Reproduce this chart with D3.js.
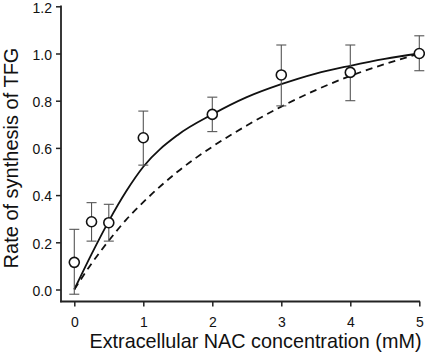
<!DOCTYPE html>
<html><head><meta charset="utf-8">
<script src="https://cdn.jsdelivr.net/npm/d3@7"></script>
<style>body{margin:0;background:#fff}svg{display:block}text{font-family:Arial,"Liberation Sans",sans-serif}</style>
</head><body>
<svg id="c" width="425" height="354"></svg>
<script>
// Data
const conc = [0, 0.25, 0.5, 1, 2, 3, 4, 5];
const rate = [0.115, 0.287, 0.283, 0.643, 0.742, 0.909, 0.920, 1.0];
const errLow = [-0.02, 0.205, 0.205, 0.527, 0.669, 0.778, 0.800, 0.927];
const errHigh = [0.255, 0.368, 0.361, 0.756, 0.815, 1.036, 1.036, 1.075];
const curveX = [0, 0.25, 0.5, 0.75, 1, 1.5, 2, 2.5, 3, 3.5, 4, 4.5, 5];
const solidY = [0, 0.15, 0.29, 0.415, 0.52, 0.655, 0.742, 0.815, 0.87, 0.915, 0.948, 0.977, 1.0];
const dashedY = [0, 0.11, 0.207, 0.295, 0.37, 0.50, 0.605, 0.695, 0.775, 0.845, 0.905, 0.955, 1.0];
const xTicks = [0, 1, 2, 3, 4, 5];
const yTicks = [0, 0.2, 0.4, 0.6, 0.8, 1.0, 1.2];
const xTitle = "Extracellular NAC concentration (mM)";
const yTitle = "Rate of synthesis of TFG";

const svg = d3.select("#c");
const x = d3.scaleLinear().domain([0, 5]).range([74.3, 419.3]);
const y = d3.scaleLinear().domain([0, 1.2]).range([289.5, 6.3]);
const axisColor = "#222";
const font = "Arial, 'Liberation Sans', sans-serif";

// y axis
const gy = svg.append("g").attr("transform", "translate(61,0)")
  .call(d3.axisLeft(y).tickValues(yTicks).tickFormat(d3.format(".1f")).tickSize(5).tickSizeOuter(0).tickPadding(4));
gy.select(".domain").remove();
gy.selectAll("line").attr("stroke", axisColor).attr("stroke-width", 1.5);
gy.selectAll("text").attr("font-size", 14).attr("dy", "0.42em").attr("fill", "#111").style("font-family", font);
svg.append("line").attr("x1", 61).attr("x2", 61).attr("y1", y(1.2) - 0.75).attr("y2", 302.2)
  .attr("stroke", axisColor).attr("stroke-width", 1.8);

// x axis
const gx = svg.append("g").attr("transform", "translate(0,301.5)")
  .call(d3.axisBottom(x).tickValues(xTicks).tickFormat(d3.format("d")).tickSize(5).tickSizeOuter(0).tickPadding(11));
gx.select(".domain").remove();
gx.selectAll("line").attr("stroke", axisColor).attr("stroke-width", 1.5);
gx.selectAll("text").attr("font-size", 14).attr("fill", "#111").style("font-family", font);
svg.append("line").attr("x1", 60.1).attr("x2", x(5) + 0.75).attr("y1", 301.5).attr("y2", 301.5)
  .attr("stroke", axisColor).attr("stroke-width", 1.8);

// titles
svg.append("text").attr("x", 255.5).attr("y", 348).attr("text-anchor", "middle")
  .attr("font-size", 19.8).attr("fill", "#111").text(xTitle);
svg.append("text").attr("transform", "translate(17.5,158) rotate(-90)").attr("text-anchor", "middle")
  .attr("font-size", 20).attr("fill", "#111").text(yTitle);

// curves
const line = d3.line().x(d => x(d[0])).y(d => y(d[1])).curve(d3.curveMonotoneX);
svg.append("path").datum(curveX.map((v, i) => [v, dashedY[i]]))
  .attr("d", line).attr("fill", "none").attr("stroke", "#111").attr("stroke-width", 1.8)
  .attr("stroke-dasharray", "7,5");
svg.append("path").datum(curveX.map((v, i) => [v, solidY[i]]))
  .attr("d", line).attr("fill", "none").attr("stroke", "#111").attr("stroke-width", 1.8);

// error bars
const pts = conc.map((c, i) => ({c, r: rate[i], lo: errLow[i], hi: errHigh[i]}));
const eb = svg.append("g").attr("stroke", "#555").attr("stroke-width", 1.1);
pts.forEach(p => {
  eb.append("line").attr("x1", x(p.c)).attr("x2", x(p.c)).attr("y1", y(p.lo)).attr("y2", y(p.hi));
  eb.append("line").attr("x1", x(p.c) - 5).attr("x2", x(p.c) + 5).attr("y1", y(p.lo)).attr("y2", y(p.lo));
  eb.append("line").attr("x1", x(p.c) - 5).attr("x2", x(p.c) + 5).attr("y1", y(p.hi)).attr("y2", y(p.hi));
});

// points
svg.append("g").selectAll("circle").data(pts).join("circle")
  .attr("cx", d => x(d.c)).attr("cy", d => y(d.r)).attr("r", 5)
  .attr("fill", "#fff").attr("stroke", "#111").attr("stroke-width", 1.6);
</script>
</body></html>
